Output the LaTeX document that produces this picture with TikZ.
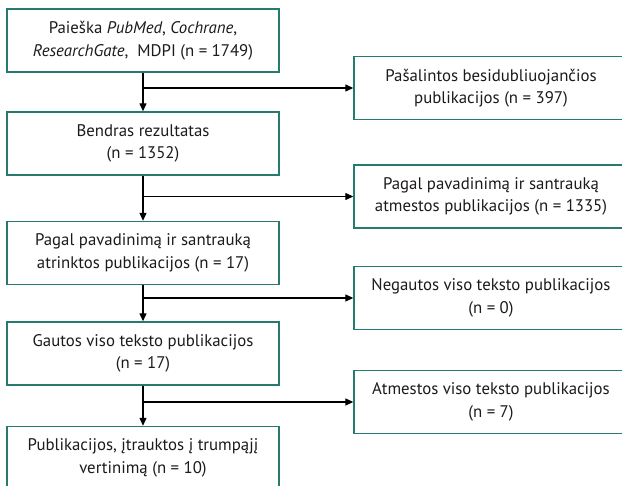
\documentclass[tikz,border=0pt]{standalone}
\usepackage{fontspec}
\setmainfont{PT Sans}
\usetikzlibrary{arrows.meta}
\definecolor{boxteal}{RGB}{38,122,110}
\definecolor{txt}{RGB}{30,26,27}
\tikzset{
  box/.style={draw=boxteal, line width=1.4pt, fill=white, align=center, inner sep=0pt,
    minimum height=63pt, text=txt, font=\fontsize{16.8}{22.5}\selectfont},
  leftbox/.style={box, minimum width=272pt},
  rightbox/.style={box, minimum width=274pt},
  arr/.style={line width=1.3pt, -{Triangle[length=8pt,width=7pt]}},
  ln/.style={line width=1.3pt}
}
\begin{document}
\begin{tikzpicture}
\useasboundingbox (0,0) rectangle (622pt,-486pt);
\clip (0,0) rectangle (622pt,-486pt);
\fill[white] (0,0) rectangle (622pt,-486pt);
\node[leftbox] (b1) at (143pt,-40.5pt) {Paieška \textit{PubMed}, \textit{Cochrane},\\ \textit{ResearchGate},\ \ MDPI (n = 1749)};
\node[leftbox] (b2) at (143pt,-143.5pt) {Bendras rezultatas\\ (n = 1352)};
\node[leftbox] (b3) at (143pt,-253pt) {Pagal pavadinimą ir santrauką\\ atrinktos publikacijos (n = 17)};
\node[leftbox] (b4) at (143pt,-353.5pt) {Gautos viso teksto publikacijos\\ (n = 17)};
\node[leftbox] (b5) at (143pt,-458pt) {Publikacijos, įtrauktos į trumpąjį\\ vertinimą (n = 10)};
\node[rightbox] (r1) at (491pt,-88pt) {Pašalintos besidubliuojančios\\ publikacijos (n = 397)};
\node[rightbox] (r2) at (491pt,-196.5pt) {Pagal pavadinimą ir santrauką\\ atmestos publikacijos (n = 1335)};
\node[rightbox] (r3) at (491pt,-298pt) {Negautos viso teksto publikacijos\\ (n = 0)};
\node[rightbox] (r4) at (491pt,-402pt) {Atmestos viso teksto publikacijos\\ (n = 7)};
\draw[arr] (b1) -- (b2);
\draw[arr] (b2) -- (b3);
\draw[arr] (b3) -- (b4);
\draw[arr] (b4) -- (b5);
\draw[arr] (b1.south |- r1.west) -- (r1.west);
\draw[arr] (b2.south |- r2.west) -- (r2.west);
\draw[arr] (b3.south |- r3.west) -- (r3.west);
\draw[arr] (b4.south |- r4.west) -- (r4.west);
\end{tikzpicture}
\end{document}
